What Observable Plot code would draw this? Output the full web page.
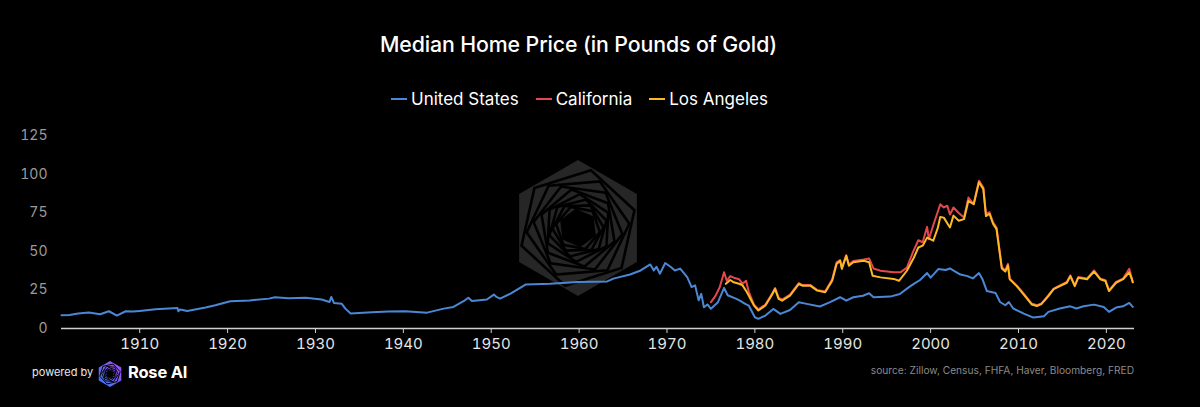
<!DOCTYPE html>
<html><head><meta charset="utf-8">
<script src="https://cdn.jsdelivr.net/npm/d3@7"></script>
<script src="https://cdn.jsdelivr.net/npm/@observablehq/plot@0.6"></script>
<style>
html,body{margin:0;padding:0;background:#000;}
#wrap{position:relative;width:1200px;height:407px;overflow:hidden;font-family:Inter,"Noto Sans",sans-serif;color:#fff;background:#000;}
#title{position:absolute;left:0;width:1157px;top:31px;text-align:center;font-size:21.3px;font-weight:500;letter-spacing:-0.1px;}
#legend{position:absolute;left:391px;top:89px;display:flex;align-items:center;font-size:17px;color:#fff;}
#legend .it{display:flex;align-items:center;margin-right:17px;}
#legend .sw{width:16px;height:2px;margin-right:4px;}
#wm{position:absolute;left:508px;top:158px;z-index:0;}
#chart{position:absolute;left:0;top:120px;z-index:1;}
#powered{position:absolute;left:32px;top:365px;font-size:11px;color:#e8e8e8;}
#logo{position:absolute;left:97px;top:360px;}
#rose{position:absolute;left:128px;top:362px;font-size:16.5px;font-weight:700;color:#fff;letter-spacing:-0.2px;}
#source{position:absolute;right:66px;top:364px;font-size:10.2px;color:#8a8a8a;}
</style>
</head><body>
<div id="wrap">
  <div id="title">Median Home Price (in Pounds of Gold)</div>
  <div id="legend"></div>
  <svg id="wm" width="140" height="140"></svg>
  <div id="chart"></div>
  <div id="powered">powered by</div>
  <svg id="logo" width="26" height="28"></svg>
  <div id="rose">Rose AI</div>
  <div id="source">source: Zillow, Census, FHFA, Haver, Bloomberg, FRED</div>
</div>
<script>
// ---- data ----
const seriesNames = ["United States", "California", "Los Angeles"];
const seriesColors = ["#4a88d6", "#e5474e", "#fbb924"];
const xTicks = [1910, 1920, 1930, 1940, 1950, 1960, 1970, 1980, 1990, 2000, 2010, 2020];
const yTicks = [0, 25, 50, 75, 100, 125];

const usYear = [1901.1,1902.0,1903.0,1904.2,1905.5,1906.5,1907.4,1908.4,1909.2,1910.0,1911.8,1914.3,1914.4,1914.6,1915.4,1917.5,1918.6,1920.3,1922.5,1924.7,1925.4,1926.9,1928.9,1930.7,1931.6,1931.8,1932.1,1933.0,1933.4,1934.0,1936.4,1938.3,1940.2,1942.7,1944.6,1945.7,1946.9,1947.4,1947.8,1949.5,1950.3,1950.6,1951.0,1952.2,1953.9,1956.7,1959.8,1963.2,1963.9,1965.8,1967.0,1968.1,1968.5,1968.8,1969.2,1969.8,1970.4,1970.9,1971.5,1972.3,1972.8,1973.2,1973.6,1973.9,1974.2,1974.6,1975.0,1975.8,1976.5,1976.9,1977.9,1978.3,1978.8,1979.3,1980.0,1980.4,1981.2,1982.1,1982.9,1984.0,1985.0,1985.9,1987.4,1988.5,1989.7,1990.4,1991.2,1992.3,1993.0,1993.5,1995.4,1996.5,1997.5,1998.0,1998.8,1999.6,2000.0,2000.9,2001.7,2002.2,2002.8,2003.4,2004.2,2004.8,2005.5,2005.9,2006.4,2007.4,2007.9,2008.5,2008.9,2009.4,2010.6,2011.7,2012.9,2013.4,2014.7,2015.9,2016.6,2017.4,2018.6,2019.7,2020.3,2021.1,2021.9,2022.6,2023.0];
const usValue = [8.6,8.8,9.8,10.4,9.3,11.2,8.4,11.2,11.0,11.4,12.5,13.3,11.2,12.4,11.4,13.6,15.1,17.7,18.2,19.4,20.3,19.6,20.0,18.8,17.2,20.5,16.6,16.0,12.9,9.7,10.5,11.0,11.2,10.3,12.9,14.0,17.9,20.0,17.9,18.8,22.0,20.5,19.4,22.6,28.5,29.1,30.2,30.6,32.4,35.1,37.7,41.6,37.7,40.1,35.6,42.5,40.1,37.7,38.9,33.4,26.9,28.0,18.3,22.5,13.8,15.6,12.8,17.1,26.4,21.6,19.2,18.1,16.3,14.9,7.3,6.3,8.4,12.7,9.5,12.0,17.0,16.0,14.3,17.0,20.3,18.1,20.3,21.3,22.9,20.3,20.7,22.4,26.7,28.6,31.5,36.0,33.0,38.7,38.0,39.0,37.0,35.0,34.0,32.5,36.0,32.0,24.3,23.0,17.2,15.1,17.2,13.0,9.7,7.1,8.0,10.8,13.0,14.4,13.0,14.4,15.5,14.0,10.8,13.6,14.4,16.6,14.0];

const caYear = [1975.0,1975.5,1976.0,1976.5,1976.8,1977.2,1977.6,1978.2,1978.6,1979.0,1979.3,1979.9,1980.4,1981.2,1981.9,1982.3,1982.7,1983.1,1984.0,1985.0,1985.4,1986.3,1987.1,1988.0,1988.8,1989.3,1989.7,1989.9,1990.4,1990.7,1991.2,1992.4,1993.0,1993.5,1994.3,1995.8,1996.6,1997.3,1998.0,1998.6,1999.1,1999.6,1999.8,2000.3,2001.1,2001.5,2001.9,2002.2,2002.6,2003.2,2003.8,2004.3,2004.9,2005.5,2006.0,2006.3,2006.7,2007.1,2007.5,2008.1,2008.5,2008.8,2009.0,2009.8,2010.6,2011.5,2012.1,2012.6,2013.4,2014.0,2014.7,2015.5,2015.9,2016.4,2016.8,2017.8,2018.6,2019.3,2019.9,2020.3,2021.1,2021.9,2022.6,2022.9,2023.0];
const caValue = [17.1,21.0,26.8,36.5,31.0,34.0,33.0,32.0,29.0,31.0,24.0,15.5,12.5,15.5,22.0,26.3,20.0,18.8,22.0,29.5,28.3,28.3,25.0,24.0,32.0,43.0,44.5,39.5,47.6,41.5,43.8,44.8,45.5,39.0,37.5,36.6,36.6,39.5,49.7,57.3,56.0,66.0,58.0,67.0,80.7,78.6,79.7,74.0,78.6,75.0,72.0,85.0,80.7,96.0,91.6,74.4,75.5,69.0,65.6,39.9,37.7,42.0,32.4,28.0,22.6,16.2,15.1,16.2,21.6,25.9,28.0,30.2,34.5,28.0,33.4,32.4,37.7,32.4,31.3,24.8,30.2,32.4,38.8,32.4,30.0];

const laYear = [1976.7,1977.2,1977.6,1978.3,1978.6,1979.1,1979.9,1980.4,1981.2,1981.9,1982.3,1982.7,1983.1,1984.0,1985.0,1985.4,1986.3,1987.1,1988.0,1988.8,1989.3,1989.7,1989.9,1990.4,1990.7,1991.2,1992.4,1993.0,1993.4,1994.3,1995.8,1996.4,1997.3,1998.1,1998.6,1999.1,1999.6,2000.3,2000.8,2001.1,2001.5,2002.2,2002.6,2003.2,2003.8,2004.3,2004.9,2005.5,2006.0,2006.3,2006.7,2007.1,2007.5,2008.1,2008.5,2008.8,2009.0,2009.8,2010.6,2011.5,2012.1,2012.6,2013.4,2014.0,2014.7,2015.5,2015.9,2016.4,2016.8,2017.8,2018.6,2019.3,2019.9,2020.3,2021.1,2021.9,2022.6,2022.9,2023.0];
const laValue = [29.0,31.5,30.0,28.9,28.0,23.5,14.9,11.7,14.9,21.4,25.7,19.2,18.1,21.4,28.9,27.8,27.8,24.6,23.5,31.0,41.9,44.0,38.7,47.2,40.8,43.0,44.0,43.0,34.3,33.2,32.2,31.0,37.5,46.1,52.6,53.8,59.0,57.0,65.0,72.4,72.0,65.6,73.3,70.0,71.0,82.9,80.7,95.0,90.5,73.0,74.5,68.0,64.5,39.0,37.0,41.0,32.0,27.5,22.0,15.6,14.6,15.8,21.0,25.5,27.5,29.7,34.0,27.5,33.0,32.0,37.0,32.0,30.8,24.3,29.7,32.0,36.5,32.0,30.0];

// ---- build tables ----
const us = usYear.map((x, i) => ({x, y: usValue[i]}));
const ca = caYear.map((x, i) => ({x, y: caValue[i]}));
const la = laYear.map((x, i) => ({x, y: laValue[i]}));

// legend
const legend = d3.select("#legend");
seriesNames.forEach((n, i) => {
  const it = legend.append("div").attr("class", "it");
  it.append("div").attr("class", "sw").style("background", seriesColors[i]);
  it.append("span").text(n);
});

// watermark (decorative)
const hex = (cx, cy, r, rot) => d3.range(6).map(i => {
  const a = rot + i * Math.PI / 3 - Math.PI / 2;
  return [cx + r * Math.cos(a), cy + r * Math.sin(a)].join(",");
}).join(" ");
const wm = d3.select("#wm");
wm.append("polygon").attr("points", hex(70, 70, 68, 0)).attr("fill", "#262626");
for (let k = 1; k < 9; k++) {
  wm.append("polygon").attr("points", hex(70, 70, 68 * Math.pow(0.87, k), k * 0.22))
    .attr("fill", "none").attr("stroke", "#000").attr("stroke-width", 2.6);
}
wm.append("polygon").attr("points", hex(70, 70, 68 * Math.pow(0.87, 9), 9 * 0.22)).attr("fill", "#000");

// footer logo (decorative)
const lg = d3.select("#logo");
const defs = lg.append("defs");
const gr = defs.append("linearGradient").attr("id", "lgG").attr("x1", 0).attr("y1", 1).attr("x2", 1).attr("y2", 0);
gr.append("stop").attr("offset", 0).attr("stop-color", "#2f7bf0");
gr.append("stop").attr("offset", 1).attr("stop-color", "#b04cf0");
lg.append("polygon").attr("points", hex(13, 14, 13, 0)).attr("fill", "url(#lgG)");
for (let k = 1; k < 6; k++) {
  lg.append("polygon").attr("points", hex(13, 14, 13 * Math.pow(0.8, k), k * 0.3))
    .attr("fill", "none").attr("stroke", "#000").attr("stroke-width", 1);
}
lg.append("circle").attr("cx", 13).attr("cy", 14).attr("r", 3.5).attr("fill", "#000");

// ---- chart ----
const chart = Plot.plot({
  width: 1200,
  height: 240,
  marginLeft: 61,
  marginRight: 66,
  marginTop: 15.5,
  marginBottom: 32,
  style: {background: "transparent", color: "#e6e6e6", fontFamily: "Inter, sans-serif", fontSize: "15px"},
  x: {domain: [1901.1, 2023.2], ticks: xTicks, tickFormat: d => String(d), label: null, tickSize: 5, tickPadding: 5},
  y: {domain: [0, 125], ticks: yTicks, label: null, tickSize: 0, tickPadding: 14},
  marks: [
    Plot.ruleY([0], {stroke: "#cfcfcf", strokeWidth: 1.5}),
    Plot.line(us, {x: "x", y: "y", stroke: seriesColors[0], strokeWidth: 2}),
    Plot.line(ca, {x: "x", y: "y", stroke: seriesColors[1], strokeWidth: 2}),
    Plot.line(la, {x: "x", y: "y", stroke: seriesColors[2], strokeWidth: 2})
  ]
});
document.getElementById("chart").appendChild(chart);
const svg = d3.select(chart);
svg.selectAll('g[aria-label^="y-axis"] text').attr("fill", "#9a9a9a").style("font-size", "14px");
svg.selectAll('g[aria-label^="x-axis"] line, g[aria-label^="x-axis"] path').attr("stroke", "#cfcfcf");
</script>
</body></html>
